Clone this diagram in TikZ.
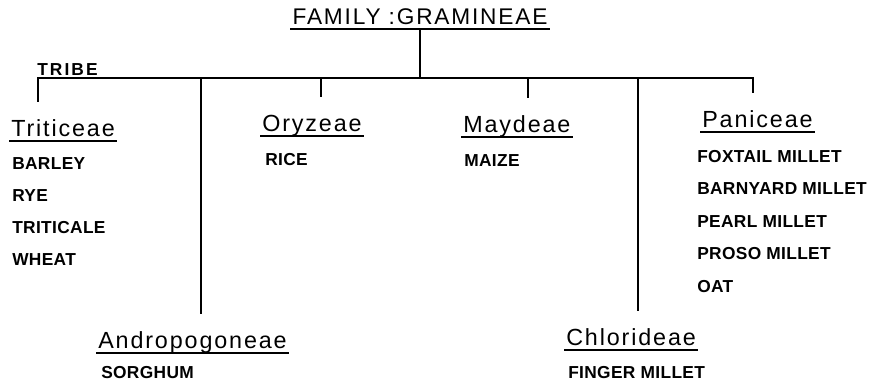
\documentclass[tikz,border=0pt]{standalone}
\usepackage{fontspec}
\usepackage{tikz}
\newfontfamily\tribefont[LetterSpace=8]{Liberation Sans}
\newfontfamily\cropfont[LetterSpace=2]{Liberation Sans}

\begin{document}
\begin{tikzpicture}[x=0.75pt,y=0.75pt,yscale=-1,xscale=1,
  branch/.style={line width=1.5pt},
  tribe/.style={font=\tribefont\fontsize{17.5}{20}\selectfont, anchor=base west,
    inner xsep=1.5pt, inner ysep=0pt, text height=12.5pt, text depth=3.75pt,
    append after command={(\tikzlastnode.south west) edge[line width=1.2pt] (\tikzlastnode.south east)}},
  crop/.style={font=\cropfont\bfseries\fontsize{13}{15}\selectfont, anchor=base west, inner sep=0pt}]
\useasboundingbox (0,0) rectangle (870,385);

% family and tribes
\node [tribe, font=\tribefont\fontsize{17}{20}\selectfont, anchor=base, text depth=3pt] (fam) at (420,25) {FAMILY :GRAMINEAE};
\node [crop, font=\cropfont\bfseries\fontsize{13}{15}\selectfont\addfontfeature{LetterSpace=12}] (lbl) at (37,75) {TRIBE};
\node [tribe] (tri) at (9,136) {Triticeae};
\node [tribe] (ory) at (260,131) {Oryzeae};
\node [tribe] (may) at (461,132) {Maydeae};
\node [tribe] (pan) at (700,127) {Paniceae};
\node [tribe] (and) at (96,348) {Andropogoneae};
\node [tribe] (chl) at (564,345) {Chlorideae};

% crops
\foreach \crop [count=\i] in {BARLEY,RYE,TRITICALE,WHEAT}
  \node [crop] (tri-\i) at (12,137+32*\i) {\crop};
\node [crop] (ory-1) at (265,165) {RICE};
\node [crop] (may-1) at (464,166) {MAIZE};
\foreach \crop [count=\i] in {FOXTAIL MILLET,BARNYARD MILLET,PEARL MILLET,PROSO MILLET,OAT}
  \node [crop] (pan-\i) at (697,129.5+32.5*\i) {\crop};
\node [crop] (and-1) at (101,378) {SORGHUM};
\node [crop] (chl-1) at (568,378) {FINGER MILLET};

% tree
\coordinate (bar) at (420,78);
\coordinate (b-tri) at (38,78);
\coordinate (b-and) at (201,78);
\coordinate (b-ory) at (321,78);
\coordinate (b-may) at (528,78);
\coordinate (b-chl) at (638,78);
\coordinate (b-pan) at (753,78);
\draw [branch] (fam.south) -- (bar);
\draw [branch, shorten <=13pt, shorten >=13pt] (b-tri |- tri.north) -- (b-tri) -- (b-pan) -- (b-pan |- pan.north);
\draw [branch, shorten >=13pt] (b-and) -- (b-and |- and.north);
\draw [branch, shorten >=13pt] (b-ory) -- (b-ory |- ory.north);
\draw [branch, shorten >=13pt] (b-may) -- (b-may |- may.north);
\draw [branch, shorten >=13pt] (b-chl) -- (b-chl |- chl.north);
\end{tikzpicture}
\end{document}
